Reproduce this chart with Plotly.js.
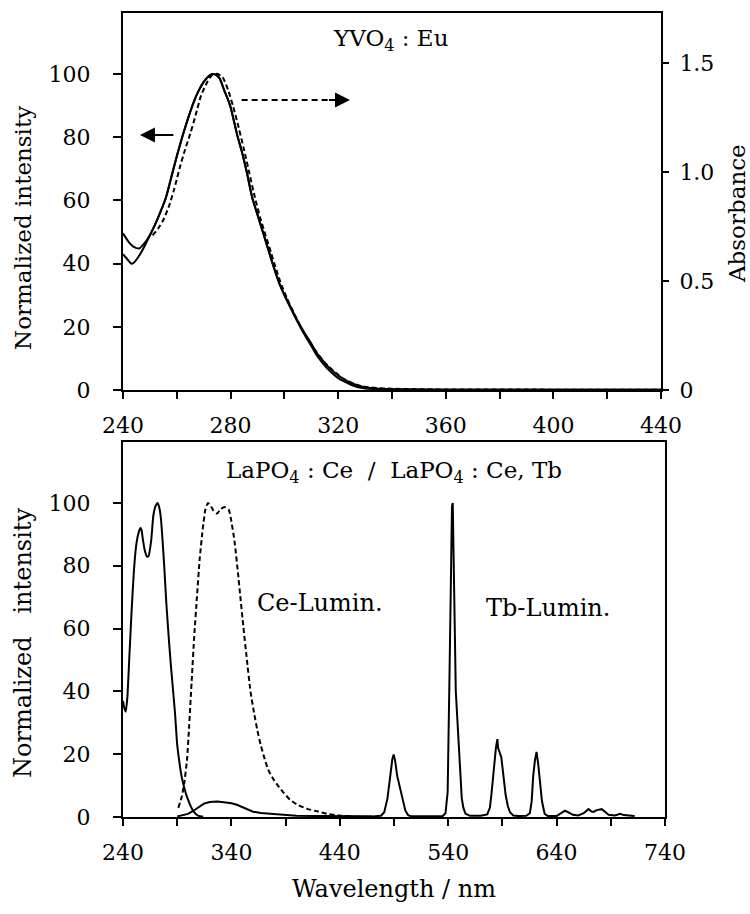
<!DOCTYPE html>
<html>
<head>
<meta charset="utf-8">
<script src="https://cdn.plot.ly/plotly-3.0.1.min.js"></script>
<style>html,body{margin:0;padding:0;background:#fff;}#chart{width:750px;height:914px;}</style>
</head>
<body>
<div id="chart"></div>
<script>
// ---------- Top panel: YVO4 : Eu ----------
// Excitation spectrum 1 (solid, normalized intensity)
const exA_wl = [240,242,244,246,248,250,252,254,256,258,260,262,264,266,268,270,272,273.5,275,276,278,279,280,282.6,284,286,288,290,292,294,296,298,300,302,304,306,308,310,312,314,316,318,320,322,324,326,328,330,334,340,360,400,440];
const exA_val = [49.6,47,45.3,44.8,46.5,49,52.5,56.5,61,67.5,74,80,85.5,90.5,94.5,97.5,99.4,100,99.5,98.5,94,92,89.5,80.2,76,69,61,55.5,50,44.5,39,34,30,26.5,23,19.8,16.8,14,11,8.8,6.8,5.2,3.8,2.8,2,1.3,0.8,0.5,0.3,0.2,0.1,0.1,0.1];
// Excitation spectrum 2 (solid, normalized intensity)
const exB_wl = [240,242,243,244,246,248,250,252,254,256,258,260,262,264,266,268,270,272,273.5,275,276,278,279,280,282.6,284,286,288,290,292,294,296,298,300,302,304,306,308,310,312,314,316,318,320,322,324,326,328,330,334,340,360,400,440];
const exB_val = [43,41,40,40.3,42.5,45.5,49,52.5,56.5,61,67.5,74,80,85.5,90.5,94.5,97.5,99.4,100,99.5,98.5,94,92,89.5,80.2,76,69,61,55.5,50,44.5,39,34,30.2,26.8,23.4,20.3,17.4,14.7,11.8,9.6,7.6,6,4.6,3.5,2.6,1.9,1.3,0.9,0.5,0.3,0.1,0.1,0.1];
// Absorbance (dashed, right axis)
const abs_wl = [251,253,255,257,259,261,263,265,267,269,271,273,275,277,279,281,283,285,287,289,291,293,295,297,299,301,304,307,310,313,316,319,322,325,328,331,335,340,350,360,400,440];
const abs_val = [0.71,0.74,0.78,0.84,0.92,1.015,1.10,1.175,1.26,1.35,1.405,1.443,1.45,1.435,1.378,1.298,1.204,1.102,0.993,0.885,0.79,0.71,0.631,0.551,0.479,0.42,0.341,0.268,0.207,0.157,0.113,0.08,0.052,0.033,0.02,0.013,0.009,0.006,0.004,0.003,0.002,0.0015];

// ---------- Bottom panel: LaPO4 : Ce / LaPO4 : Ce, Tb ----------
// Ce excitation (solid)
const ceEx_wl = [240,241,242.5,244,246,248,250,252,254,256,257,258.5,260,262,263.5,266,268,270,272,273.5,275,276.5,278,280,282,284,286,288,290,292,294,296,298,300,302,304,306,308,310,314];
const ceEx_val = [37,35,33.5,38,52,66,78,86,90,92,91.5,88,85,83,83,88,96,99,100,98.5,95,88,80,68,58,49,41,33,23,17.5,13,10,7.5,5.5,3.8,2.4,1.4,0.7,0.3,0.1];
// Ce luminescence (dashed)
const ceEm_wl = [291,294.3,296.5,299,301,303.6,305.7,308.2,310.7,313.5,316,318.4,321,323.5,326.7,330,333.5,337.5,339.7,342.8,346,348,351,354,357.6,361,364,367,370,374,379,384,388.5,394,400.8,410,419,430,441,450];
const ceEm_val = [2.9,6.6,10.8,18,28.9,44.8,57.5,70,82,91.5,97.9,100,99,97.5,96.6,98,98.7,97.9,94.7,88,78,71,60.7,51,40,33,27.5,23,19.3,15,11.9,9.5,7.6,5.5,3.9,2.6,1.8,0.9,0.4,0.2];
// Tb luminescence spectrum (solid)
const tbEm_wl = [290,295,300,305,310,315,320,327,333,340,345,350,355,360,367,375,382,390,400,420,440,470,478,481,484,486.5,488.5,489.7,491,493,495,496.5,498.5,500.5,503,506,520,535,537.5,539.5,541.2,542.7,543.5,544.2,545,546,547,548.3,549.5,551,552.5,554,556,560,570,576,578.5,580,582.3,584,585.4,586,587,589,591,593,595,597,600,605,612,615.3,617,618.4,620,621.5,623,624.6,626.5,629,632,640,644,647.7,651,655,660,665,669.3,672,674,677,681.7,685,688,694,698.6,702,706,712];
const tbEm_val = [0.2,0.5,1,2,3.2,4.3,4.8,4.9,4.7,4.4,3.9,3.1,2.3,1.7,1.3,1.1,1.0,0.7,0.4,0.3,0.2,0.2,0.4,1.5,6,13.5,18.5,19.9,18,13,10,8.7,5,2,0.6,0.2,0.2,0.3,1.2,8,45,87,99,100,84,60,40,32,24,12,6,2.9,1,0.4,0.4,0.8,3,7.6,17,22,24.8,22,21,19,13,7,3.5,1.5,0.5,0.3,0.4,1.2,5,13,18,20.7,17,12,5,1,0.3,0.3,1.2,2,1.5,0.7,0.5,1.2,2.5,1.8,1.6,2.2,2.5,1.4,0.7,0.5,1.0,0.6,0.4,0.3];

// ---------- Tick labels ----------
const topXTicks = [240,280,320,360,400,440];
const leftYTicks = [0,20,40,60,80,100];
const absTickVals = [0,0.5,1.0,1.5];
const absTickText = ['0','0.5','1.0','1.5'];
const botXTicks = [240,340,440,540,640,740];

const FONT = "'DejaVu Serif', 'Liberation Serif', serif";
const blk = '#000';

const traces = [
  {x: exA_wl, y: exA_val, xaxis:'x', yaxis:'y', mode:'lines', line:{color:blk, width:2, shape:'spline', smoothing:0.6}},
  {x: exB_wl, y: exB_val, xaxis:'x', yaxis:'y', mode:'lines', line:{color:blk, width:2, shape:'spline', smoothing:0.6}},
  {x: abs_wl, y: abs_val, xaxis:'x', yaxis:'y2', mode:'lines', line:{color:blk, width:2, dash:'5px,3px', shape:'spline', smoothing:0.6}},
  {x: ceEx_wl, y: ceEx_val, xaxis:'x2', yaxis:'y3', mode:'lines', line:{color:blk, width:2, shape:'spline', smoothing:0.5}},
  {x: ceEm_wl, y: ceEm_val, xaxis:'x2', yaxis:'y3', mode:'lines', line:{color:blk, width:2, dash:'5px,3px', shape:'spline', smoothing:0.5}},
  {x: tbEm_wl, y: tbEm_val, xaxis:'x2', yaxis:'y3', mode:'lines', line:{color:blk, width:2}}
];

const axCommon = {
  showgrid:false, zeroline:false, showline:true, linecolor:blk, linewidth:2,
  ticks:'outside', tickcolor:blk, tickwidth:2,
  tickfont:{family:FONT, size:22, color:blk}
};

const layout = {
  width:750, height:914,
  margin:{l:123, r:85, t:13, b:97},
  paper_bgcolor:'#fff', plot_bgcolor:'#fff',
  showlegend:false,
  font:{family:FONT, color:blk},
  xaxis: Object.assign({}, axCommon, {
    domain:[0, 0.9926], anchor:'y', range:[240,440],
    tickvals: topXTicks, ticklen:7, mirror:true, ticklabelstandoff:8,
    minor:{ticks:'outside', dtick:20, tick0:240, ticklen:7, tickwidth:2, tickcolor:blk}
  }),
  yaxis: Object.assign({}, axCommon, {
    domain:[0.531, 1], anchor:'x', range:[0,119.3],
    tickvals: leftYTicks, ticklen:8, ticklabelstandoff:18
  }),
  yaxis2: Object.assign({}, axCommon, {
    overlaying:'y', side:'right', anchor:'x', range:[0,1.729],
    tickvals: absTickVals, ticktext: absTickText, ticklen:6, ticklabelstandoff:6
  }),
  xaxis2: Object.assign({}, axCommon, {
    domain:[0,1], anchor:'y3', range:[240,740],
    tickvals: botXTicks, ticklen:7, mirror:true, ticklabelstandoff:8,
    minor:{ticks:'outside', dtick:50, tick0:240, ticklen:7, tickwidth:2, tickcolor:blk},
    title:{text:'Wavelength / nm', font:{family:FONT, size:24, color:blk}, standoff:16}
  }),
  yaxis3: Object.assign({}, axCommon, {
    domain:[0,0.4664], anchor:'x2', range:[0,119.4], mirror:true,
    tickvals: leftYTicks, ticklen:8, ticklabelstandoff:18
  }),
  shapes:[
    {type:'line', xref:'x', yref:'y', x0:284.1, x1:318, y0:91.8, y1:91.8, line:{color:blk, width:2, dash:'6px,4px'}}
  ],
  annotations:[
    // axis titles placed as rotated annotations
    {xref:'paper', yref:'paper', x:-0.1845, y:0.7326, text:'Normalized intensity', textangle:-90, showarrow:false, xanchor:'center', yanchor:'middle', font:{family:FONT, size:23, color:blk}},
    {xref:'paper', yref:'paper', x:-0.1845, y:0.2164, text:'Normalized&nbsp;&nbsp;&nbsp;intensity', textangle:-90, showarrow:false, xanchor:'center', yanchor:'middle', font:{family:FONT, size:24, color:blk}},
    {xref:'paper', yref:'paper', x:1.1328, y:0.7512, text:'Absorbance', textangle:-90, showarrow:false, xanchor:'center', yanchor:'middle', font:{family:FONT, size:23, color:blk}},
    {xref:'x', yref:'y', x:339.3, y:110.8, text:'YVO<sub>4</sub> : Eu', showarrow:false, font:{family:FONT, size:23, color:blk}},
    {xref:'x', yref:'y', x:246.3, y:80.7, ax:259.3, ay:80.7, axref:'x', ayref:'y', text:'', showarrow:true, arrowhead:2, arrowsize:1.5, arrowwidth:2, arrowcolor:blk},
    {xref:'x', yref:'y', x:324.4, y:91.8, ax:316, ay:91.8, axref:'x', ayref:'y', text:'', showarrow:true, arrowhead:2, arrowsize:1.5, arrowwidth:2, arrowcolor:blk},
    {xref:'x2', yref:'y3', x:490, y:110, text:'LaPO<sub>4</sub> : Ce &nbsp;/&nbsp; LaPO<sub>4</sub> : Ce, Tb', showarrow:false, font:{family:FONT, size:23, color:blk}},
    {xref:'x2', yref:'y3', x:421.7, y:68.2, text:'Ce-Lumin.', showarrow:false, font:{family:FONT, size:24, color:blk}},
    {xref:'x2', yref:'y3', x:632, y:66.6, text:'Tb-Lumin.', showarrow:false, font:{family:FONT, size:24, color:blk}}
  ]
};

Plotly.newPlot('chart', traces, layout, {staticPlot:true, displayModeBar:false});
</script>
</body>
</html>
